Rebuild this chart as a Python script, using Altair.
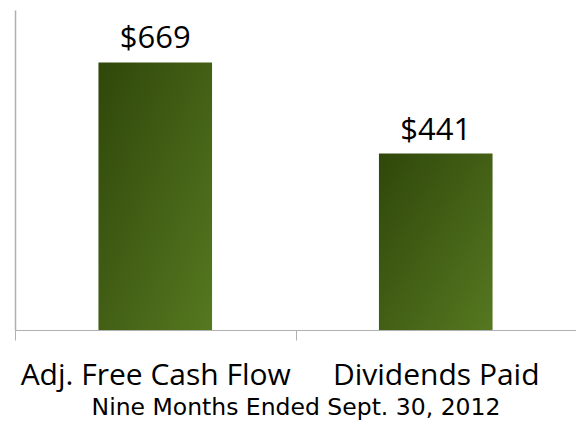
import altair as alt
import pandas as pd

categories = ["Adj. Free Cash Flow", "Dividends Paid"]
values = [669, 441]
labels = ["$669", "$441"]
subtitle = "Nine Months Ended Sept. 30, 2012"

df = pd.DataFrame({"category": categories, "value": values, "label": labels})

x_enc = alt.X(
    "category:N",
    sort=categories,
    scale=alt.Scale(paddingInner=0, paddingOuter=0),
    axis=alt.Axis(
        title=subtitle,
        titleFont="DejaVu Sans",
        titleFontSize=23.5,
        titleFontWeight="normal",
        titleColor="#000000",
        titleBaseline="alphabetic",
        titleY=84,
        labelAngle=0,
        labelFont="Open Sans",
        labelFontSize=30,
        labelColor="#000000",
        labelBaseline="alphabetic",
        labelPadding=44,
        labelLimit=0,
        tickBand="extent",
        tickSize=10,
        tickColor="#b0b0b0",
        domainColor="#b0b0b0",
        grid=False,
    ),
)

y_enc = alt.Y(
    "value:Q",
    scale=alt.Scale(domain=[0, 800], nice=False),
    axis=alt.Axis(
        title=None, labels=False, ticks=False, grid=False,
        domainColor="#b0b0b0", domainWidth=1.5,
    ),
)

gradient = alt.Gradient(
    gradient="linear",
    stops=[
        alt.GradientStop(color="#2f470a", offset=0),
        alt.GradientStop(color="#567820", offset=1),
    ],
    x1=0, y1=0, x2=1, y2=1,
)

bars = alt.Chart(df).mark_bar(
    color=gradient, width=alt.RelativeBandSize(0.405)
).encode(x=x_enc, y=y_enc)

text = alt.Chart(df).mark_text(
    font="Open Sans", fontSize=31, color="#000000", baseline="alphabetic", dy=-14
).encode(x=alt.X("category:N", sort=categories), y="value:Q", text="label:N")

chart = (
    alt.layer(bars, text)
    .properties(
        width=561,
        height=320,
        autosize=alt.AutoSizeParams(type="none"),
        padding={"left": 7, "top": 2, "right": 0, "bottom": 90},
    )
    .configure(background="#ffffff")
    .configure_view(strokeWidth=0, stroke="transparent")
)

chart.save("out.html", embed_options={"renderer": "svg", "actions": False})
